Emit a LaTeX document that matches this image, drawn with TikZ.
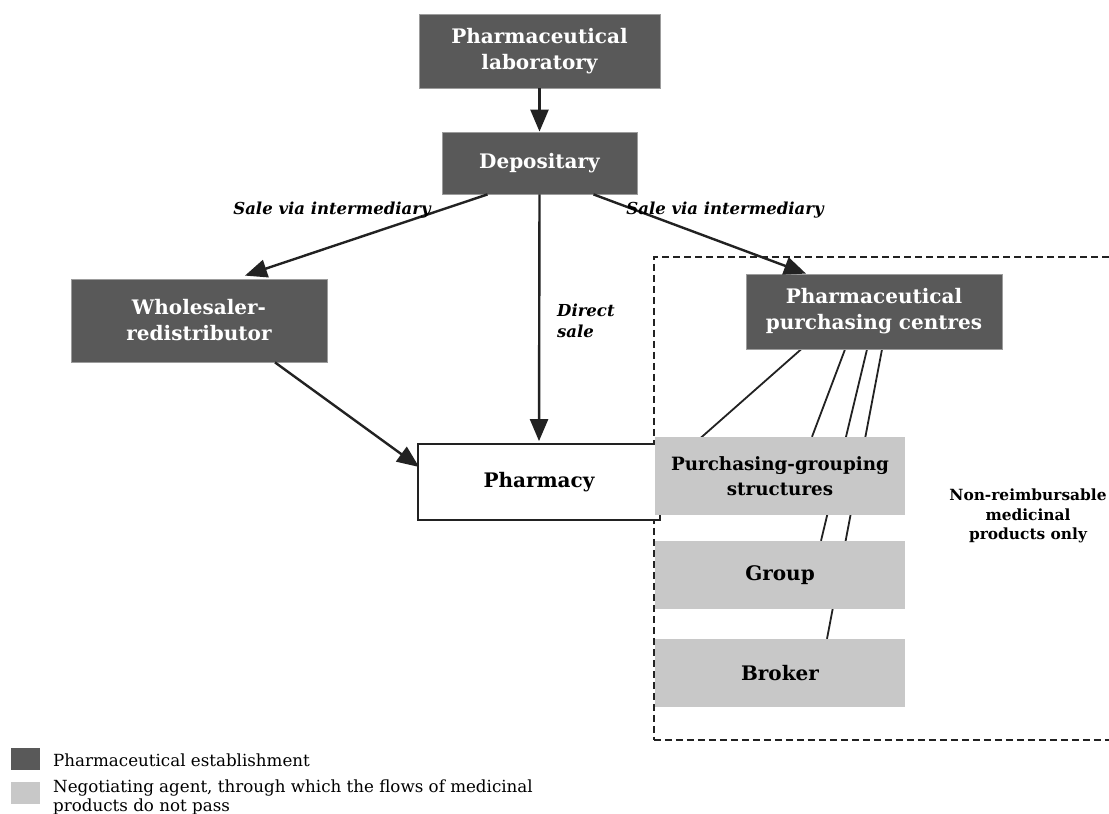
\documentclass[tikz,border=0pt]{standalone}
\usepackage{fontspec}
\setmainfont{DejaVu Serif}
\usetikzlibrary{arrows.meta,calc,backgrounds}
\pgfdeclarelayer{bottom}
\pgfsetlayers{bottom,background,main}
\definecolor{darkbox}{HTML}{595959}
\definecolor{lightbox}{HTML}{C8C8C8}
\definecolor{ink}{HTML}{222222}
\begin{document}
\begin{tikzpicture}[x=1pt,y=-1pt,
  darknode/.style={fill=darkbox,draw=lightbox!60!darkbox,line width=0.8pt,text=white,font=\bfseries\fontsize{20}{26}\selectfont,align=center,inner sep=0pt},
  lightnode/.style={fill=lightbox,draw=none,text=black,font=\bfseries\fontsize{20}{25}\selectfont,align=center,inner sep=0pt},
  arr/.style={draw=ink,line width=2.4pt,-{Triangle[length=22pt,width=18pt]}},
  thin/.style={draw=ink,line width=1.8pt},
  lbl/.style={font=\bfseries\itshape\fontsize{16.5}{22}\selectfont,inner sep=0pt},
  legtxt/.style={font=\fontsize{16.7}{19}\selectfont,anchor=west,align=left,inner sep=0pt}]
\useasboundingbox (0,0) rectangle (1109,814);
\begin{pgfonlayer}{bottom}
\fill[white] (0,0) rectangle (1109,814);
\end{pgfonlayer}

\node[draw=ink,dash pattern=on 7pt off 4pt,line width=1.8pt,minimum width=470pt,minimum height=483pt,anchor=north west,inner sep=0pt] (frame) at (653,256) {};

\node[darknode,minimum width=241pt,minimum height=74pt] (lab) at (539.5,51) {Pharmaceutical\\laboratory};
\node[darknode,minimum width=195pt,minimum height=62pt] (dep) at (539.5,163) {Depositary};
\node[darknode,minimum width=256pt,minimum height=83pt] (whs) at (199,320.5) {Wholesaler-\\redistributor};
\node[darknode,minimum width=256pt,minimum height=75pt] (pc) at (874,311.5) {Pharmaceutical\\purchasing centres};
\node[draw=ink,line width=1.8pt,fill=white,minimum width=242pt,minimum height=76pt,font=\bfseries\fontsize{20}{25}\selectfont,inner sep=0pt] (pharm) at (539,482) {Pharmacy};
\node[lightnode,minimum width=250pt,minimum height=78pt,font=\bfseries\fontsize{18.3}{25}\selectfont] (pg) at (780,476) {Purchasing-grouping\\structures};
\node[lightnode,minimum width=250pt,minimum height=68pt] (grp) at (780,575) {Group};
\node[lightnode,minimum width=250pt,minimum height=68pt] (brk) at (780,673) {Broker};

\begin{scope}[on background layer]
\draw[thin] ($(pc.south)+(-73,0)$) -- ($(pharm.east)+(0,-9)$);
\draw[thin] ($(pc.south)+(-29,0)$) -- ($(pg.north)+(32,0)$);
\draw[thin] ($(pc.south)+(-7,0)$) -- ($(grp.north)+(41,0)$);
\draw[thin] ($(pc.south)+(8,0)$) -- ($(brk.north)+(47,0)$);
\end{scope}

\draw[arr] (lab.south) -- (dep.north);
\draw[arr] ($(dep.south)+(-52,0)$) -- ($(whs.north)+(46,-3)$);
\draw[arr] (dep.south) -- ($(pharm.north)+(0,-2)$);
\draw[arr] ($(dep.south)+(54,0)$) -- ($(pc.north)+(-68,0)$);
\draw[arr] ($(whs.south)+(76,0)$) -- ($(pharm.west)+(2,-15)$);

\node[lbl] (l1) at (332,210) {Sale via intermediary};
\node[lbl] (l2) at (725,210) {Sale via intermediary};
\node[lbl,align=left,anchor=west,font=\bfseries\itshape\fontsize{16.5}{21}\selectfont] (l3) at (557,321) {Direct\\sale};
\node[font=\bfseries\fontsize{15.4}{19.5}\selectfont,align=center,inner sep=0pt] (nr) at (1028,516) {Non-reimbursable\\medicinal\\products only};

\node[fill=darkbox,minimum width=29pt,minimum height=22pt,inner sep=0pt,anchor=north west] (k1) at (11,748) {};
\node[fill=lightbox,minimum width=29pt,minimum height=22pt,inner sep=0pt,anchor=north west] (k2) at (11,782) {};
\node[legtxt] (t1) at (53,760) {Pharmaceutical establishment};
\node[legtxt,anchor=north west] (t2) at (53,780) {Negotiating agent, through which the flows of medicinal\\products do not pass};
\end{tikzpicture}
\end{document}
